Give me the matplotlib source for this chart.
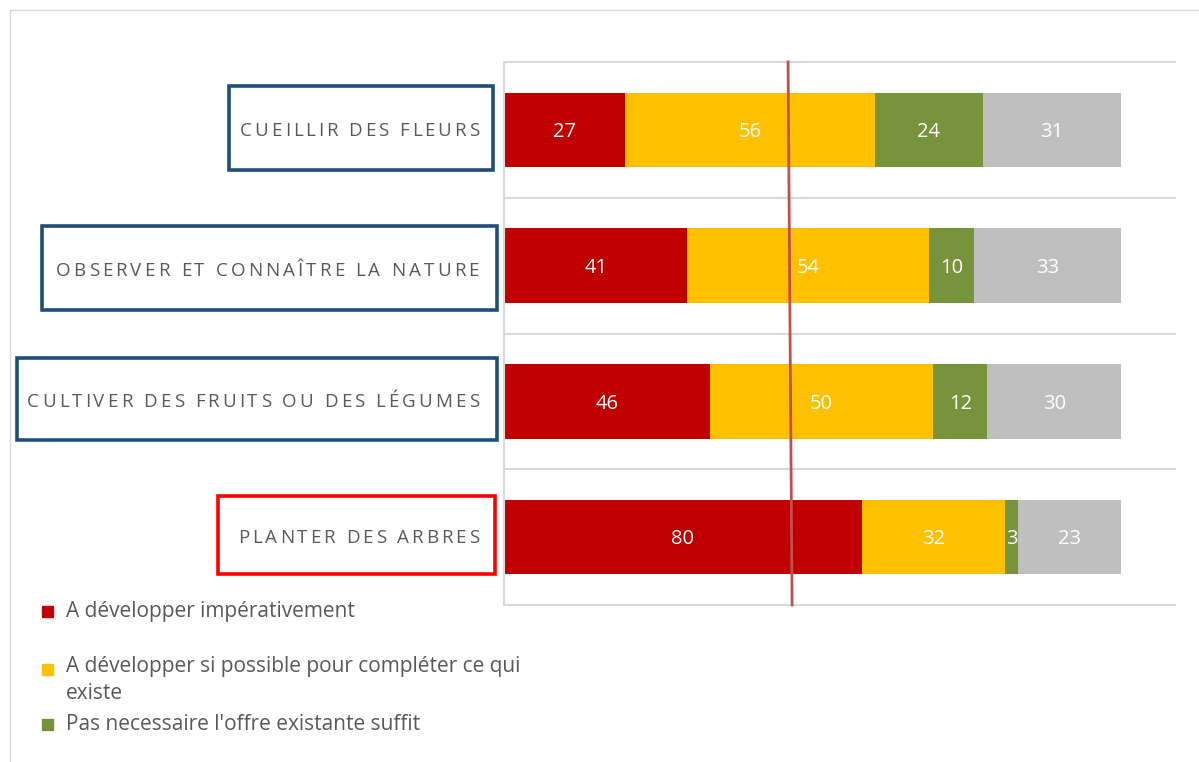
import matplotlib.pyplot as plt
from matplotlib.patches import Rectangle
from matplotlib.font_manager import FontProperties
from matplotlib.lines import Line2D

# Data
categories = ["CUEILLIR DES FLEURS", "OBSERVER ET CONNAÎTRE LA NATURE",
              "CULTIVER DES FRUITS OU DES LÉGUMES", "PLANTER DES ARBRES"]
imperatif = [27, 41, 46, 80]
si_possible = [56, 54, 50, 32]
pas_necessaire = [24, 10, 12, 3]
autre = [31, 33, 30, 23]
series = [imperatif, si_possible, pas_necessaire, autre]
colors = ["#C00000", "#FFC000", "#77933C", "#BFBFBF"]
legend_labels = ["A développer impérativement",
                 "A développer si possible pour compléter ce qui\nexiste",
                 "Pas necessaire l'offre existante suffit"]
ref_line = (63.5, 64.4)  # slightly slanted vertical marker (top, bottom)

W, H = 1199, 762
fig = plt.figure(figsize=(W / 100, H / 100), dpi=100)


def fx(x):
    return x / W


def fy(y):
    return 1 - y / H


ax = fig.add_axes([fx(504), fy(605), fx(1175) - fx(504), fy(62) - fy(605)])
y = list(range(len(categories)))
left = [0] * len(categories)
val_size = 14.5
for vals, c in zip(series, colors):
    bars = ax.barh(y, vals, left=left, height=0.55, color=c)
    for b, v in zip(bars, vals):
        # baseline offset so the digits sit centred in the bar
        ax.annotate(str(v), (b.get_x() + b.get_width() / 2, b.get_y() + b.get_height() / 2),
                    xytext=(0, -0.714 * val_size / 2), textcoords="offset points",
                    ha="center", va="baseline", color="white", fontsize=val_size,
                    family="Open Sans")
    left = [l + v for l, v in zip(left, vals)]

ax.set_xlim(0, 150)
ax.set_ylim(3.5, -0.5)
for b in [-0.5, 0.5, 1.5, 2.5, 3.5]:
    ax.axhline(b, color="#D9D9D9", lw=1.5, clip_on=False)
ax.set_xticks([])
ax.set_yticks([])
for s in ["top", "right", "bottom"]:
    ax.spines[s].set_visible(False)
ax.spines["left"].set_color("#D9D9D9")
ax.spines["left"].set_linewidth(1.5)

ax.plot(ref_line, [-0.5, 3.5], color="#C0504D", lw=2, clip_on=False, zorder=5)

# outer chart frame
fig.add_artist(Line2D([fx(10), fx(10)], [fy(10), fy(H)], color="#D9D9D9", lw=1))
fig.add_artist(Line2D([fx(10), fx(W)], [fy(10), fy(10)], color="#D9D9D9", lw=1))

# category label boxes
boxes = [(229, 86, 493, 170, "#1F4E79"), (42, 226, 497, 310, "#1F4E79"),
         (17, 358, 497, 440, "#1F4E79"), (218, 496, 495, 574, "#FF0000")]
for x0, y0, x1, y1, ec in boxes:
    fig.add_artist(Rectangle((fx(x0), fy(y1)), fx(x1) - fx(x0), fy(y0) - fy(y1),
                             fill=False, ec=ec, lw=2.6, transform=fig.transFigure))

# letter-spaced category labels, drawn char by char
lab_size = 13.5
fp = FontProperties(family="Open Sans", size=lab_size)
cap_px = 0.714 * lab_size * 100 / 72
renderer = fig.canvas.get_renderer()
label_spans = [(240, 479), (56, 479), (27, 479), (238, 479)]
for lab, (xs, xe), (bx0, by0, bx1, by1, _) in zip(categories, label_spans, boxes):
    widths = [renderer.get_text_width_height_descent(ch, fp, ismath=False)[0] for ch in lab]
    gap = ((xe - xs) - sum(widths)) / (len(lab) - 1)
    x = xs
    base = (by0 + by1) / 2 + 1 + cap_px / 2
    for ch, w in zip(lab, widths):
        fig.text(fx(x), fy(base), ch, fontproperties=fp, color="#595959",
                 ha="left", va="baseline")
        x += w + gap

# legend (fourth series is cut off in the original)
leg_size = 15
leg_pos = [611, 669, 724]
for lab, c, ly in zip(legend_labels, colors, leg_pos):
    fig.add_artist(Rectangle((fx(42), fy(ly + 6)), 11 / W, 11 / H, color=c,
                             transform=fig.transFigure))
    if "\n" in lab:
        fig.text(fx(66), fy(ly - 13), lab, color="#595959", fontsize=leg_size,
                 family="Open Sans", va="top", linespacing=1.37)
    else:
        fig.text(fx(66), fy(ly), lab, color="#595959", fontsize=leg_size,
                 family="Open Sans", va="center")

fig.savefig("out.png", dpi=100)
